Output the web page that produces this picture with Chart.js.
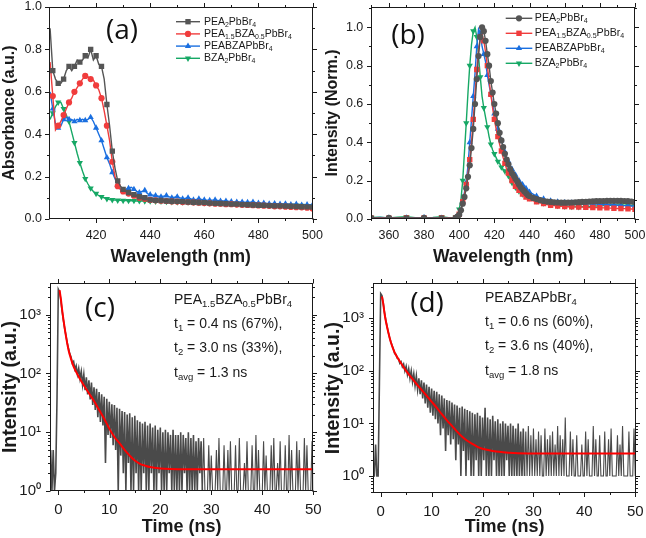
<!DOCTYPE html>
<html>
<head>
<meta charset="utf-8">
<script src="https://cdn.jsdelivr.net/npm/chart.js@4.4.1/dist/chart.umd.min.js"></script>
<style>
  html, body { margin: 0; padding: 0; background: #fff; }
  #fig { position: relative; width: 646px; height: 538px; overflow: hidden; font-family: "Liberation Sans", Arial, sans-serif; }
  #fig canvas { position: absolute; }
  .tag { position: absolute; font-family: "Open Sans", sans-serif; font-size: 28px; line-height: 34px; color: #111; transform: translate(-50%, -50%); white-space: nowrap; }
  .note { position: absolute; font-size: 14px; line-height: 16px; color: #1a1a1a; white-space: nowrap; }
  .note sub { font-size: 0.68em; line-height: 0; vertical-align: -0.32em; }
</style>
</head>
<body>
<div id="fig">
  <canvas id="chart-abs" width="323" height="270" style="left:0;top:0;width:323px;height:270px"></canvas>
  <canvas id="chart-pl" width="323" height="270" style="left:323px;top:0;width:323px;height:270px"></canvas>
  <canvas id="chart-trpl-c" width="323" height="268" style="left:0;top:270px;width:323px;height:268px"></canvas>
  <canvas id="chart-trpl-d" width="323" height="268" style="left:323px;top:270px;width:323px;height:268px"></canvas>

  <div class="tag" style="left:122px;top:28px">(a)</div>
  <div class="tag" style="left:408px;top:33px">(b)</div>
  <div class="tag" style="left:100px;top:306px">(c)</div>
  <div class="tag" style="left:427px;top:301px">(d)</div>

  <div class="note" style="left:174px;top:291px">PEA<sub>1.5</sub>BZA<sub>0.5</sub>PbBr<sub>4</sub></div>
  <div class="note" style="left:174px;top:315px">t<sub>1</sub> = 0.4 ns (67%),</div>
  <div class="note" style="left:174px;top:339px">t<sub>2</sub> = 3.0 ns (33%),</div>
  <div class="note" style="left:174px;top:364px">t<sub>avg</sub> = 1.3 ns</div>

  <div class="note" style="left:485px;top:289px">PEABZAPbBr<sub>4</sub></div>
  <div class="note" style="left:485px;top:313px">t<sub>1</sub> = 0.6 ns (60%),</div>
  <div class="note" style="left:485px;top:337px">t<sub>2</sub> = 3.6 ns (40%),</div>
  <div class="note" style="left:485px;top:362px">t<sub>avg</sub> = 1.8 ns</div>
</div>

<script>
'use strict';

// ---- Daten ----

const SERIES_NAMES = ['PEA_2PbBr_4', 'PEA_1.5BZA_0.5PbBr_4', 'PEABZAPbBr_4', 'BZA_2PbBr_4'];

// (a) Absorption
const WL_ABS = [
  403, 404, 405, 406, 407, 408, 409, 410, 411, 412, 413, 414, 415, 416, 417, 418, 419, 420, 421,
  422, 423, 424, 425, 426, 427, 428, 429, 430, 431, 432, 433, 434, 435, 436, 437, 438, 439, 440,
  442, 444, 446, 448, 450, 452, 454, 456, 458, 460, 462, 464, 466, 468, 470, 472, 474, 476, 478,
  480, 482, 484, 486, 488, 490, 492, 494, 496, 498, 500
];
const ABS_PEA2 = [
  0.90, 0.70, 0.66, 0.64, 0.64, 0.66, 0.70, 0.72, 0.70, 0.72, 0.75, 0.74, 0.75, 0.77, 0.76, 0.80, 0.75, 0.77, 0.73,
  0.72, 0.66, 0.54, 0.44, 0.32, 0.24, 0.18, 0.155, 0.14, 0.13, 0.125, 0.12, 0.115, 0.11, 0.105, 0.10, 0.10, 0.095, 0.09,
  0.088, 0.087, 0.085, 0.084, 0.083, 0.082, 0.08, 0.079, 0.078, 0.077, 0.075, 0.074, 0.073, 0.072, 0.07, 0.07, 0.068, 0.067, 0.066,
  0.065, 0.064, 0.063, 0.062, 0.062, 0.061, 0.06, 0.059, 0.058, 0.057, 0.056
];
const ABS_PEA15 = [
  0.74, 0.58, 0.42, 0.44, 0.46, 0.49, 0.52, 0.55, 0.57, 0.60, 0.62, 0.64, 0.66, 0.675, 0.67, 0.66, 0.655, 0.63, 0.61,
  0.57, 0.51, 0.44, 0.37, 0.27, 0.20, 0.155, 0.14, 0.13, 0.125, 0.12, 0.115, 0.11, 0.105, 0.10, 0.10, 0.095, 0.09, 0.09,
  0.088, 0.086, 0.085, 0.083, 0.082, 0.08, 0.08, 0.078, 0.077, 0.075, 0.074, 0.072, 0.072, 0.07, 0.07, 0.068, 0.067, 0.066, 0.065,
  0.064, 0.063, 0.062, 0.06, 0.06, 0.058, 0.057, 0.056, 0.055, 0.053, 0.05
];
const ABS_PEABZA = [
  0.60, 0.52, 0.45, 0.43, 0.44, 0.47, 0.48, 0.47, 0.47, 0.46, 0.47, 0.465, 0.47, 0.465, 0.47, 0.48, 0.46, 0.43, 0.40,
  0.37, 0.33, 0.29, 0.26, 0.22, 0.19, 0.16, 0.14, 0.135, 0.14, 0.145, 0.15, 0.14, 0.13, 0.125, 0.13, 0.135, 0.12, 0.115,
  0.11, 0.105, 0.11, 0.10, 0.105, 0.095, 0.10, 0.09, 0.095, 0.09, 0.088, 0.09, 0.085, 0.085, 0.082, 0.08, 0.08, 0.078, 0.08,
  0.075, 0.075, 0.072, 0.073, 0.07, 0.072, 0.068, 0.07, 0.066, 0.068, 0.065
];
const ABS_BZA2 = [
  0.47, 0.50, 0.53, 0.55, 0.55, 0.52, 0.49, 0.46, 0.41, 0.36, 0.31, 0.265, 0.225, 0.19, 0.165, 0.145, 0.13, 0.12, 0.11,
  0.105, 0.10, 0.095, 0.092, 0.09, 0.089, 0.088, 0.088, 0.087, 0.087, 0.086, 0.086, 0.086, 0.085, 0.085, 0.085, 0.084, 0.084, 0.084,
  0.083, 0.083, 0.082, 0.081, 0.08, 0.08, 0.079, 0.078, 0.077, 0.076, 0.075, 0.075, 0.074, 0.073, 0.072, 0.071, 0.07, 0.07, 0.069,
  0.068, 0.067, 0.066, 0.066, 0.065, 0.064, 0.064, 0.063, 0.063, 0.062, 0.062
];

// (b) Photolumineszenz, normiert
const WL_PL = [
  350, 355, 360, 365, 370, 375, 380, 385, 390, 395,
  398, 399, 400, 401, 402, 403, 404, 405, 406, 407, 408, 409, 410, 411, 412, 413, 414, 415, 416, 417,
  418, 419, 420, 421, 422, 423, 424, 425, 426, 427, 428, 429, 430, 431, 432, 433, 434, 435, 436, 437,
  438, 439, 440,
  442, 444, 446, 448, 450, 452, 454, 456, 458, 460, 462, 464, 466, 468, 470, 472, 474, 476, 478, 480,
  482, 484, 486, 488, 490, 492, 494, 496, 498, 500
];
const PL_PEA2 = [
  0.005, 0.004, 0.006, 0.005, 0.004, 0.005, 0.006, 0.005, 0.004, 0.005,
  0.006, 0.012, 0.022, 0.045, 0.08, 0.115, 0.16, 0.22, 0.28, 0.37, 0.47, 0.60, 0.73, 0.85, 0.95, 1.0, 0.98, 0.93, 0.86, 0.80,
  0.72, 0.66, 0.60, 0.55, 0.50, 0.45, 0.41, 0.375, 0.34, 0.31, 0.285, 0.26, 0.24, 0.225, 0.21, 0.195, 0.18, 0.165, 0.155, 0.145,
  0.135, 0.125, 0.12,
  0.11, 0.104, 0.098, 0.094, 0.091, 0.089, 0.087, 0.086, 0.085, 0.085, 0.085, 0.086, 0.087, 0.088, 0.089, 0.09, 0.091, 0.092, 0.093, 0.094,
  0.094, 0.095, 0.095, 0.095, 0.095, 0.095, 0.094, 0.093, 0.091, 0.089
];
const PL_PEA15 = [
  0.004, 0.005, 0.004, 0.005, 0.006, 0.004, 0.005, 0.004, 0.005, 0.006,
  0.005, 0.01, 0.025, 0.05, 0.09, 0.13, 0.18, 0.24, 0.31, 0.40, 0.52, 0.65, 0.78, 0.88, 0.95, 0.96, 0.93, 0.87, 0.80, 0.72,
  0.65, 0.58, 0.52, 0.47, 0.43, 0.39, 0.355, 0.32, 0.29, 0.26, 0.24, 0.22, 0.20, 0.185, 0.17, 0.16, 0.15, 0.14, 0.13, 0.12,
  0.115, 0.11, 0.105,
  0.095, 0.09, 0.085, 0.08, 0.075, 0.072, 0.07, 0.068, 0.066, 0.065, 0.064, 0.063, 0.063, 0.062, 0.062, 0.061, 0.06, 0.06, 0.06, 0.059,
  0.058, 0.058, 0.057, 0.056, 0.055, 0.055, 0.054, 0.053, 0.052, 0.05
];
const PL_PEABZA = [
  0.006, 0.008, 0.005, 0.007, 0.006, 0.005, 0.007, 0.006, 0.005, 0.007,
  0.006, 0.012, 0.025, 0.05, 0.09, 0.14, 0.19, 0.28, 0.40, 0.52, 0.64, 0.76, 0.90, 0.99, 0.97, 0.90, 0.86, 0.82, 0.75, 0.70,
  0.65, 0.60, 0.55, 0.51, 0.47, 0.44, 0.41, 0.38, 0.35, 0.32, 0.30, 0.28, 0.26, 0.245, 0.23, 0.215, 0.20, 0.19, 0.18, 0.17,
  0.16, 0.15, 0.14,
  0.13, 0.12, 0.11, 0.105, 0.10, 0.095, 0.092, 0.09, 0.088, 0.086, 0.085, 0.084, 0.083, 0.082, 0.081, 0.08, 0.08, 0.079, 0.078, 0.077,
  0.076, 0.075, 0.074, 0.073, 0.072, 0.071, 0.07, 0.069, 0.068, 0.066
];
const PL_BZA2 = [
  0.008, 0.01, 0.006, 0.009, 0.012, 0.007, 0.006, 0.008, 0.012, 0.006,
  0.01, 0.02, 0.05, 0.10, 0.20, 0.35, 0.50, 0.66, 0.80, 0.91, 0.98, 1.0, 0.95, 0.85, 0.74, 0.64, 0.58, 0.53, 0.48, 0.43,
  0.39, 0.36, 0.34, 0.32, 0.30, 0.29, 0.27, 0.26, 0.25, 0.24, 0.225, 0.205, 0.19, 0.175, 0.165, 0.155, 0.145, 0.14, 0.13, 0.125,
  0.12, 0.115, 0.11,
  0.10, 0.095, 0.088, 0.083, 0.078, 0.075, 0.072, 0.07, 0.068, 0.066, 0.065, 0.064, 0.063, 0.063, 0.064, 0.065, 0.066, 0.067, 0.068, 0.069,
  0.07, 0.071, 0.072, 0.072, 0.073, 0.073, 0.072, 0.071, 0.07, 0.069
];

// (c)/(d) TRPL: Zählraten je Kanal, Kanal 0 bei -1.5 ns, Kanalbreite 0.25 ns
const TRPL_T0 = -1.5;
const TRPL_DT = 0.25;
const TRPL_C = [
  5, 1, 5, 1, 2, 40, 2700, 2450, 1750, 1150,
  800, 580, 440, 330, 265, 215, 190, 150, 160, 118,
  135, 96, 122, 82, 108, 64, 96, 52, 86, 44,
  76, 36, 70, 29, 58, 24, 55, 18, 48, 15,
  44, 13, 40, 3, 37, 9, 33, 8, 30, 6,
  29, 5, 26, 1, 25, 4, 23, 2, 22, 1,
  20, 3, 21, 1, 18, 1, 19, 2, 16, 1,
  15, 1, 14, 2, 15, 1, 13, 1, 14, 2,
  12, 1, 13, 1, 11, 2, 12, 1, 10, 1,
  11, 1, 10, 2, 9, 1, 11, 1, 9, 1,
  9, 1, 10, 1, 9, 2, 8, 1, 10, 1,
  8, 1, 9, 1, 7, 1, 8, 2, 7, 1,
  8, 1, 1, 1, 6, 1, 4, 1, 1, 1,
  5, 1, 8, 1, 1, 1, 6, 1, 1, 5,
  1, 7, 1, 1, 1, 6, 1, 1, 8, 1,
  1, 1, 3, 1, 7, 1, 1, 1, 6, 1,
  1, 9, 1, 5, 1, 1, 1, 7, 1, 4,
  1, 1, 1, 6, 1, 8, 1, 1, 3, 1,
  7, 1, 1, 1, 6, 1, 1, 9, 1, 5,
  1, 1, 1, 7, 1, 5, 1, 1, 1, 8,
  1, 6, 1, 1, 1, 7, 1
];
const FIT_C_T = [0.25, 0.5, 0.75, 1, 1.5, 2, 2.5, 3, 4, 5, 6, 7, 8, 9, 10, 11, 12, 13, 14, 15, 16, 17, 18, 20, 22, 25, 30, 40, 50];
const FIT_C = [2600, 1850, 1200, 830, 430, 250, 175, 130, 88, 63, 46, 34, 24, 17, 11.5, 8.3, 6.5, 5.0, 4.0, 3.3, 2.9, 2.7, 2.55, 2.42, 2.37, 2.35, 2.35, 2.35, 2.35];

const TRPL_D = [
  1, 1, 4, 1, 1, 60, 2950, 2700, 1950, 1300,
  920, 700, 540, 430, 355, 300, 260, 215, 205, 175,
  170, 140, 150, 120, 135, 100, 122, 85, 110, 72,
  100, 62, 88, 52, 80, 44, 72, 36, 66, 30,
  60, 24, 55, 20, 50, 16, 46, 14, 42, 12,
  40, 10, 36, 6, 34, 8, 30, 3, 28, 6,
  27, 4, 25, 5, 23, 2, 22, 4, 20, 1,
  21, 3, 19, 1, 18, 2, 17, 1, 16, 1,
  15, 2, 16, 1, 14, 1, 13, 2, 20, 1,
  13, 1, 12, 1, 14, 2, 11, 1, 12, 1,
  10, 1, 11, 1, 10, 2, 9, 1, 10, 1,
  9, 1, 8, 1, 10, 1, 7, 1, 8, 1,
  7, 1, 9, 1, 6, 1, 8, 1, 5, 1,
  7, 1, 6, 1, 1, 8, 1, 5, 1, 6,
  1, 7, 1, 4, 1, 9, 1, 6, 1, 5,
  1, 13, 1, 1, 1, 7, 1, 5, 1, 1,
  6, 1, 1, 1, 4, 1, 1, 7, 1, 5,
  1, 1, 1, 9, 1, 5, 1, 1, 6, 1,
  1, 1, 7, 1, 1, 5, 1, 8, 1, 1,
  1, 1, 6, 1, 4, 1, 9, 1, 1, 1,
  1, 7, 1, 1, 1, 8, 1
];
const FIT_D_T = [0.25, 0.5, 0.75, 1, 1.5, 2, 2.5, 3, 4, 5, 6, 7, 8, 9, 10, 11, 12, 13, 14, 15, 16, 17, 18, 19, 20, 22, 24, 26, 30, 40, 50];
const FIT_D = [2600, 1900, 1250, 900, 540, 350, 255, 200, 140, 100, 75, 57, 44, 34, 26, 20, 15, 11.5, 9, 7, 5.6, 4.7, 4.1, 3.6, 3.3, 3.0, 2.85, 2.75, 2.7, 2.7, 2.7];

const LOG_TICK_LABELS = ['10\u2070', '10\u00b9', '10\u00b2', '10\u00b3'];

// ---- Darstellung ----

const INK = '#1a1a1a';
const COLORS = ['#555555', '#f03c3c', '#1a6fe0', '#16a865'];
const MARKERS = [['rect', 0], ['circle', 0], ['triangle', 0], ['triangle', 180]];
const MARKERS_PL = [['circle', 0], ['rect', 0], ['triangle', 0], ['triangle', 180]];
const FONT = '"Liberation Sans", Arial, sans-serif';

function plainName(s) { return s.replace(/_/g, ''); }

// Rahmen mit Ticks auf allen vier Seiten (Origin-Stil)
const frameTicks = {
  id: 'frameTicks',
  afterDraw(chart, args, o) {
    const { ctx, chartArea: a } = chart;
    const xs = chart.scales.x, ys = chart.scales.y;
    const L = Math.round(a.left) + 0.5, R = Math.round(a.right) - 0.5;
    const T = Math.round(a.top) + 0.5, B = Math.round(a.bottom) - 0.5;
    ctx.save();
    ctx.strokeStyle = INK;
    ctx.lineWidth = 1;
    ctx.strokeRect(L, T, R - L, B - T);
    ctx.beginPath();
    const xMajor = xs.ticks.map((t) => t.value);
    for (let i = Math.ceil(xs.min / o.xMinor); i * o.xMinor <= xs.max + 1e-9; i++) {
      const v = i * o.xMinor;
      const len = xMajor.some((m) => Math.abs(m - v) < 1e-6) ? 4.5 : 2.5;
      const px = Math.round(xs.getPixelForValue(v)) + 0.5;
      ctx.moveTo(px, B); ctx.lineTo(px, B + len);
      ctx.moveTo(px, T); ctx.lineTo(px, T - len);
    }
    const yMarks = [];
    if (o.yLog) {
      for (let e = Math.floor(Math.log10(ys.min)); e <= Math.ceil(Math.log10(ys.max)); e++) {
        for (let k = 1; k <= 9; k++) {
          const v = k * Math.pow(10, e);
          if (v >= ys.min && v <= ys.max) yMarks.push([v, k === 1]);
        }
      }
    } else {
      const yMajor = ys.ticks.map((t) => t.value);
      for (let i = Math.ceil(ys.min / o.yMinor - 1e-9); i * o.yMinor <= ys.max + 1e-9; i++) {
        const v = i * o.yMinor;
        yMarks.push([v, yMajor.some((m) => Math.abs(m - v) < 1e-6)]);
      }
    }
    yMarks.forEach(([v, major]) => {
      const len = major ? 4.5 : 2.5;
      const py = Math.round(ys.getPixelForValue(v)) + 0.5;
      ctx.moveTo(L, py); ctx.lineTo(L - len, py);
      ctx.moveTo(R, py); ctx.lineTo(R + len, py);
    });
    ctx.stroke();
    ctx.restore();
  },
};

function drawMarker(ctx, style, rot, r, x, y) {
  ctx.beginPath();
  if (style === 'rect') {
    const s = r * Math.SQRT1_2;
    ctx.rect(x - s, y - s, 2 * s, 2 * s);
  } else if (style === 'circle') {
    ctx.arc(x, y, r, 0, Math.PI * 2);
  } else {
    const d = rot ? -1 : 1;
    ctx.moveTo(x, y - d * r);
    ctx.lineTo(x + r * 0.866, y + d * r * 0.5);
    ctx.lineTo(x - r * 0.866, y + d * r * 0.5);
    ctx.closePath();
  }
  ctx.fill();
}

// Legende mit tiefgestellten Indizes (PEA_2PbBr_4 ...)
const subLegend = {
  id: 'subLegend',
  afterDraw(chart, args, o) {
    if (!o.show) return;
    const ctx = chart.ctx;
    ctx.save();
    chart.data.datasets.forEach((ds, i) => {
      const y = o.y0 + i * o.dy;
      ctx.strokeStyle = ds.borderColor;
      ctx.fillStyle = ds.borderColor;
      ctx.lineWidth = 1.4;
      ctx.beginPath();
      ctx.moveTo(o.x0, y);
      ctx.lineTo(o.x0 + o.len, y);
      ctx.stroke();
      drawMarker(ctx, ds.pointStyle, ds.pointRotation, ds.legendRadius, o.x0 + o.len / 2, y);
      let x = o.x0 + o.len + o.gap;
      ctx.fillStyle = INK;
      ctx.textBaseline = 'middle';
      SERIES_NAMES[i].split(/_([0-9.]+)/).forEach((part, k) => {
        const sub = k % 2 === 1;
        ctx.font = (sub ? o.fs * 0.66 : o.fs) + 'px ' + FONT;
        ctx.fillText(part, x, sub ? y + o.fs * 0.3 : y);
        x += ctx.measureText(part).width;
      });
    });
    ctx.restore();
  },
};

function fixedBox(size, horizontal) {
  return (s) => {
    if (horizontal) s.height = size; else s.width = size;
    s.paddingLeft = 0; s.paddingRight = 0; s.paddingTop = 0; s.paddingBottom = 0;
  };
}

function baseOptions(area, canvasW) {
  return {
    responsive: false,
    animation: false,
    events: [],
    layout: { padding: { top: area.top, right: canvasW - area.right, left: 0, bottom: 0 } },
    elements: { line: { tension: 0 } },
  };
}

function linearX(min, max, step, area, canvasH, title, tickSize, titleSize, titleOffset, tickPad) {
  return {
    type: 'linear', min, max,
    ticks: { stepSize: step, includeBounds: false, autoSkip: false, maxRotation: 0, padding: tickPad,
      color: INK, font: { family: FONT, size: tickSize } },
    grid: { display: false, drawTicks: false }, border: { display: false },
    title: { display: true, text: title, color: INK,
      font: { family: FONT, size: titleSize, weight: 'bold', lineHeight: 1 },
      padding: { top: 0, bottom: titleOffset - titleSize / 2 } },
    afterFit: fixedBox(canvasH - area.bottom, true),
  };
}

function yTitle(text, size, center) {
  return { display: true, text, color: INK,
    font: { family: FONT, size, weight: 'bold', lineHeight: 1 },
    padding: { top: center - size / 2, bottom: 0 } };
}

function spectrumDatasets(xs, seriesList, markers, showMarker, radius) {
  return seriesList.map((values, i) => ({
    label: plainName(SERIES_NAMES[i]),
    data: xs.map((w, k) => ({ x: w, y: values[k] })),
    borderColor: COLORS[i],
    backgroundColor: COLORS[i],
    borderWidth: 1.4,
    pointStyle: markers[i][0],
    pointRotation: markers[i][1],
    legendRadius: radius[i],
    pointRadius: (c) => (showMarker(xs[c.dataIndex], i) ? radius[i] : 0),
    pointBorderWidth: 0,
    pointHoverRadius: 0,
  }));
}

// ---- (a) Absorption ----
(function () {
  const area = { left: 49, top: 7, right: 312.5, bottom: 219 };
  const opts = baseOptions(area, 323);
  opts.scales = {
    x: linearX(402.6, 500, 20, area, 270, 'Wavelength (nm)', 12.5, 17.5, 13.3, 9),
    y: {
      type: 'linear', min: 0, max: 1.0,
      ticks: { stepSize: 0.2, includeBounds: false, padding: 7, color: INK, font: { family: FONT, size: 12.5 },
        callback: (v) => v.toFixed(1) },
      grid: { display: false, drawTicks: false }, border: { display: false },
      title: yTitle('Absorbance (a.u.)', 16, 10),
      afterFit: fixedBox(area.left, false),
    },
  };
  opts.plugins = {
    legend: { display: false }, tooltip: { enabled: false },
    frameTicks: { xMinor: 10, yMinor: 0.1 },
    subLegend: { show: true, x0: 176, len: 24, gap: 4, y0: 21.7, dy: 12.2, fs: 10.5 },
  };
  new Chart(document.getElementById('chart-abs'), {
    type: 'line',
    data: { datasets: spectrumDatasets(WL_ABS, [ABS_PEA2, ABS_PEA15, ABS_PEABZA, ABS_BZA2], MARKERS,
      (w) => w > 440 || w % 2 === 0, [3.8, 3.1, 3.6, 3.6]) },
    options: opts,
    plugins: [frameTicks, subLegend],
  });
})();

// ---- (b) PL ----
(function () {
  const area = { left: 48.3, top: 7, right: 312, bottom: 219 };
  const opts = baseOptions(area, 323);
  opts.scales = {
    x: linearX(350, 500, 20, area, 270, 'Wavelength (nm)', 12.5, 17.5, 13.3, 9),
    y: {
      type: 'linear', min: 0, max: 1.106,
      ticks: { stepSize: 0.2, includeBounds: false, padding: 8, color: INK, font: { family: FONT, size: 12.5 },
        callback: (v) => v.toFixed(1) },
      grid: { display: false, drawTicks: false }, border: { display: false },
      title: yTitle('Intensity (Norm.)', 16, 10),
      afterFit: fixedBox(area.left, false),
    },
  };
  opts.plugins = {
    legend: { display: false }, tooltip: { enabled: false },
    frameTicks: { xMinor: 10, yMinor: 0.1 },
    subLegend: { show: true, x0: 182.7, len: 26.6, gap: 2.5, y0: 18.3, dy: 15, fs: 10.7 },
  };
  const showPL = (w, i) => {
    if (w < 397) return w % 10 === 0;
    if (w <= 440) return i === 0 || w % 2 === 0;
    return i === 0 || w % 4 === 0;
  };
  new Chart(document.getElementById('chart-pl'), {
    type: 'line',
    data: { datasets: spectrumDatasets(WL_PL, [PL_PEA2, PL_PEA15, PL_PEABZA, PL_BZA2], MARKERS_PL,
      showPL, [3.1, 3.8, 3.6, 3.6]) },
    options: opts,
    plugins: [frameTicks, subLegend],
  });
})();

// ---- (c)/(d) TRPL ----
function trplChart(canvasId, counts, fitT, fitV, area, xMin, xMax, yMin, yMax) {
  const opts = baseOptions(area, 323);
  opts.scales = {
    x: linearX(xMin, xMax, 10, area, 268, 'Time (ns)', 15, 18, 11, 10),
    y: {
      type: 'logarithmic', min: yMin, max: yMax,
      ticks: { autoSkip: false, padding: 9, color: INK, font: { family: FONT, size: 15 },
        callback: (v) => {
          const e = Math.round(Math.log10(v));
          return Math.abs(v - Math.pow(10, e)) < 1e-6 * v && LOG_TICK_LABELS[e] ? LOG_TICK_LABELS[e] : '';
        } },
      grid: { display: false, drawTicks: false }, border: { display: false },
      title: yTitle('Intensity (a.u.)', 19.5, 10.8),
      afterFit: fixedBox(area.left, false),
    },
  };
  opts.plugins = {
    legend: { display: false }, tooltip: { enabled: false },
    frameTicks: { xMinor: 5, yLog: true },
    subLegend: { show: false },
  };
  new Chart(document.getElementById(canvasId), {
    type: 'line',
    data: {
      datasets: [
        {
          // Fit zuerst: wird in Chart.js zuoberst gezeichnet
          label: 'Fit',
          data: fitT.map((t, i) => ({ x: t, y: fitV[i] })),
          borderColor: '#ff0000', borderWidth: 2, pointRadius: 0,
          cubicInterpolationMode: 'monotone',
        },
        {
          label: 'TRPL',
          data: counts.map((v, i) => ({ x: TRPL_T0 + i * TRPL_DT, y: v })),
          borderColor: '#4a4a4a', borderWidth: 1.6, pointRadius: 0,
          // im Rauschschwanz dünner, damit Lücken sichtbar bleiben
          segment: { borderWidth: (s) => (s.p0.parsed.x > 28 ? 1.1 : 1.6) },
        },
      ],
    },
    options: opts,
    plugins: [frameTicks],
  });
}

trplChart('chart-trpl-c', TRPL_C, FIT_C_T, FIT_C,
  { left: 50, top: 13, right: 313.3, bottom: 221 }, -1.63, 50, 1, 3450);
trplChart('chart-trpl-d', TRPL_D, FIT_D_T, FIT_D,
  { left: 50, top: 13, right: 313.3, bottom: 223.3 }, -1.51, 50.2, 0.47, 4700);
</script>
</body>
</html>
